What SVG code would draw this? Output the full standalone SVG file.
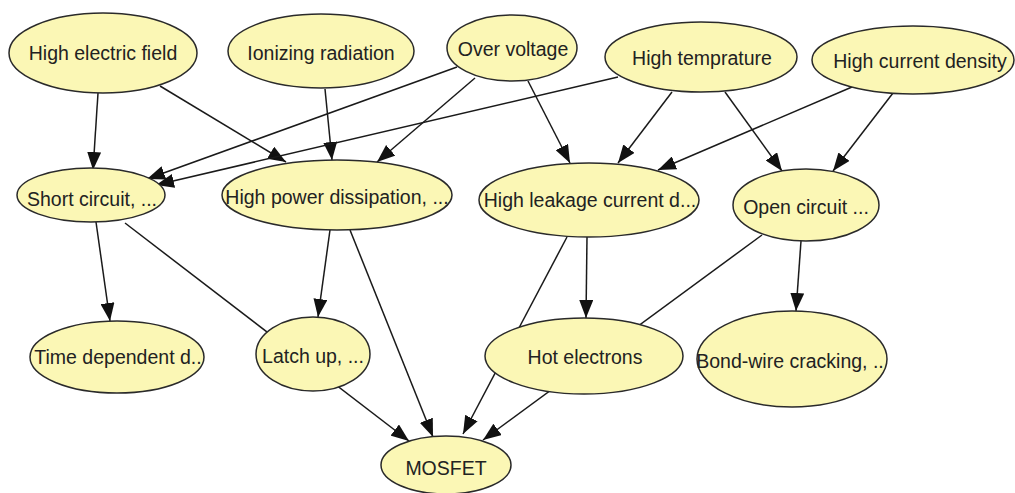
<svg xmlns="http://www.w3.org/2000/svg" width="1015" height="493" viewBox="0 0 1015 493">
<style>
.node ellipse{fill:#FBF7B5;stroke:#2a2a2a;stroke-width:1.5}
.node text{font-family:"Liberation Sans",Arial,sans-serif;font-size:19.5px;fill:#222;text-anchor:middle}
.edges line{stroke:#1a1a1a;stroke-width:1.5;marker-end:url(#arr)}
</style>
<defs>
<marker id="arr" markerUnits="userSpaceOnUse" markerWidth="18" markerHeight="14" refX="18" refY="7" orient="auto">
<path d="M0,0 L18,7 L0,14 z" fill="#111"/>
</marker>
</defs>
<rect width="1015" height="493" fill="#fff"/>
<g id="connectors" class="edges">
<line x1="98" y1="93" x2="93" y2="170"/>
<line x1="160" y1="86" x2="286" y2="162"/>
<line x1="325" y1="89" x2="332" y2="160"/>
<line x1="457" y1="67" x2="147" y2="179"/>
<line x1="475" y1="78" x2="377" y2="162"/>
<line x1="528" y1="81" x2="570" y2="163"/>
<line x1="672" y1="92" x2="618" y2="163"/>
<line x1="725" y1="92" x2="782" y2="171"/>
<line x1="618" y1="77" x2="156" y2="185"/>
<line x1="852" y1="87" x2="658" y2="170"/>
<line x1="893" y1="93" x2="833" y2="171"/>
<line x1="96" y1="222" x2="110" y2="321"/>
<line x1="125" y1="223" x2="409" y2="441"/>
<line x1="330" y1="230" x2="318" y2="317"/>
<line x1="350" y1="230" x2="433" y2="437"/>
<line x1="587" y1="237" x2="586" y2="318"/>
<line x1="567" y1="237" x2="463" y2="434"/>
<line x1="801" y1="241" x2="796" y2="311"/>
<line x1="762" y1="235" x2="483" y2="440"/>
</g>
<g id="n_hef" class="node"><ellipse cx="103" cy="53" rx="94" ry="40"/><text x="103" y="60">High electric field</text></g>
<g id="n_ir" class="node"><ellipse cx="321" cy="51" rx="93" ry="37"/><text x="321" y="60">Ionizing radiation</text></g>
<g id="n_ov" class="node"><ellipse cx="512" cy="48" rx="65" ry="33"/><text x="513" y="56">Over voltage</text></g>
<g id="n_ht" class="node"><ellipse cx="701" cy="57" rx="96" ry="35"/><text x="702" y="65">High temprature</text></g>
<g id="n_hcd" class="node"><ellipse cx="913" cy="60" rx="101" ry="34"/><text x="920" y="68">High current density</text></g>
<g id="n_sc" class="node"><ellipse cx="91" cy="195" rx="74" ry="27"/><text x="92" y="206">Short circuit, ...</text></g>
<g id="n_hpd" class="node"><ellipse cx="337" cy="195" rx="115" ry="35"/><text x="337" y="204">High power dissipation, ...</text></g>
<g id="n_hlc" class="node"><ellipse cx="589" cy="200" rx="110" ry="37"/><text x="590" y="207">High leakage current d...</text></g>
<g id="n_oc" class="node"><ellipse cx="806" cy="205" rx="73" ry="36"/><text x="806" y="214">Open circuit ...</text></g>
<g id="n_tdd" class="node"><ellipse cx="117" cy="357" rx="87" ry="36"/><text x="118" y="364">Time dependent d..</text></g>
<g id="n_lu" class="node"><ellipse cx="313" cy="354" rx="57" ry="37"/><text x="313" y="363">Latch up, ...</text></g>
<g id="n_he" class="node"><ellipse cx="584" cy="356" rx="99" ry="38"/><text x="585" y="364">Hot electrons</text></g>
<g id="n_bw" class="node"><ellipse cx="792" cy="359" rx="95" ry="48"/><text x="790" y="368">Bond-wire cracking, ..</text></g>
<g id="n_mos" class="node"><ellipse cx="446" cy="465" rx="65" ry="29"/><text x="446" y="475">MOSFET</text></g>
</svg>
